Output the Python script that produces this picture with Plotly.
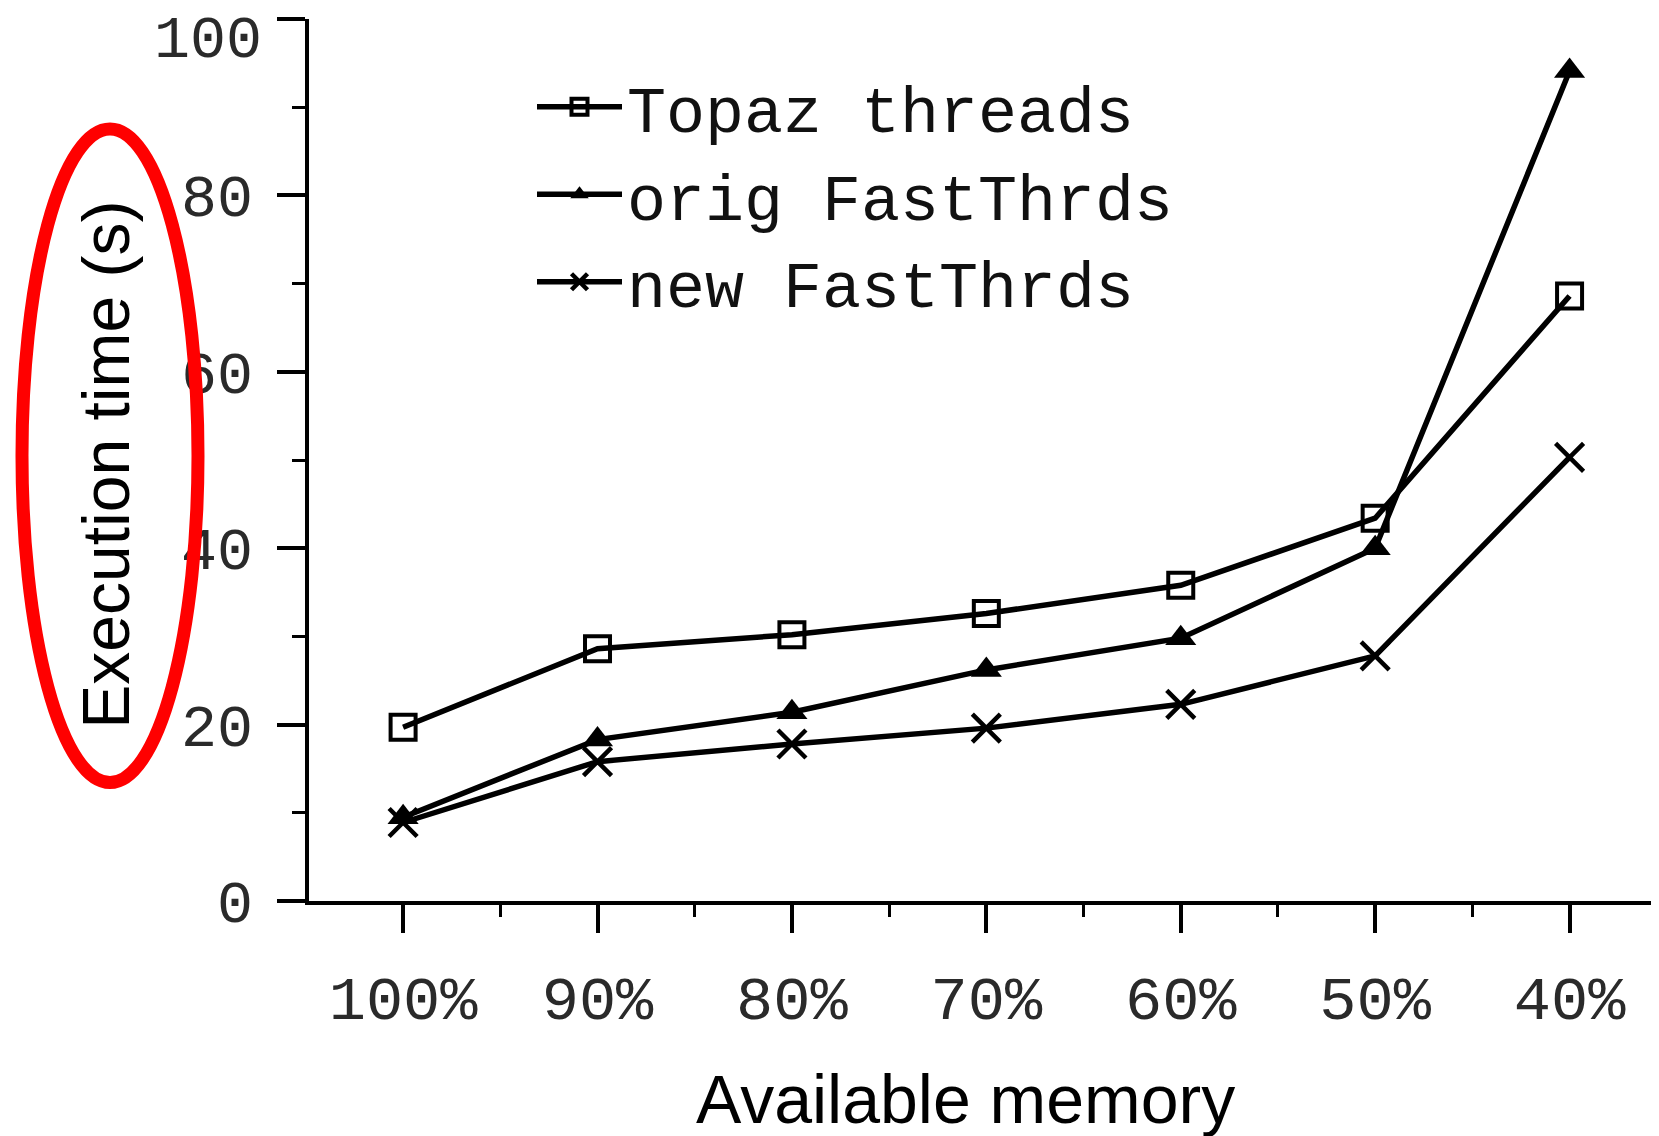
import plotly.graph_objects as go

categories = ["100%", "90%", "80%", "70%", "60%", "50%", "40%"]
topaz_threads = [19.7, 28.6, 30.2, 32.6, 35.8, 43.4, 68.6]
orig_fastthrds = [9.5, 18.3, 21.4, 26.2, 29.8, 40.0, 94.1]
new_fastthrds = [8.9, 15.8, 17.8, 19.6, 22.3, 27.8, 50.3]
y_ticks = [0, 20, 40, 60, 80, 100]
y_tick_labels = ["0", "20", "40", "60", "80", "100"]

xs = list(range(len(categories)))
mono = "Liberation Mono, Courier New, monospace"
sans = "Liberation Sans, Arial, sans-serif"

fig = go.Figure()
fig.add_trace(go.Scatter(
    x=xs, y=topaz_threads, name="Topaz threads", mode="lines+markers",
    line=dict(color="black", width=5.5),
    marker=dict(symbol="square-open", size=25, color="black", line=dict(width=4, color="black")),
))
fig.add_trace(go.Scatter(
    x=xs, y=orig_fastthrds, name="orig FastThrds", mode="lines+markers",
    line=dict(color="black", width=5.5),
    marker=dict(symbol="triangle-up", size=27, color="black"),
))
fig.add_trace(go.Scatter(
    x=xs, y=new_fastthrds, name="new FastThrds", mode="lines+markers",
    line=dict(color="black", width=5.5),
    marker=dict(symbol="x-thin-open", size=28, color="black", line=dict(width=4.5, color="black")),
))

OFF = 8  # browser default body margin
W, H = 1659 - OFF, 1136 - OFF
L, R, T, B = 309 - OFF, 0, 19 - OFF, 1136 - 901.5
pw, ph = W - L - R, H - T - B

def px(x):
    return (x - OFF - L) / pw

def py(y):
    return 1 - (y - OFF - T) / ph

# the top label sits just below its tick in the original, so it is placed as text
top_label = y_tick_labels[-1]
axis_labels = y_tick_labels[:-1] + [""]

fig.update_layout(
    width=W, height=H,
    margin=dict(l=L, r=R, t=T, b=B, autoexpand=False),
    paper_bgcolor="white", plot_bgcolor="white",
    showlegend=True,
    legend=dict(
        x=px(532), y=py(58), xanchor="left", yanchor="top",
        font=dict(family=mono, size=65, color="#111"),
        bgcolor="rgba(0,0,0,0)", itemwidth=85,
    ),
    xaxis=dict(
        range=[-0.484, 6.46], tickmode="array", tickvals=xs, ticktext=categories,
        showgrid=False, zeroline=False, showline=True, linecolor="black", linewidth=4,
        ticks="outside", ticklen=28, tickwidth=4, tickcolor="black",
        ticklabelstandoff=12,
        tickfont=dict(family=mono, size=62, color="#2a2a2a"),
        minor=dict(tickmode="array", tickvals=[i - 0.5 for i in range(len(categories) + 1)],
                   ticks="outside", ticklen=12, tickwidth=3, tickcolor="black"),
    ),
    yaxis=dict(
        range=[0, 100], tickmode="array", tickvals=y_ticks, ticktext=axis_labels,
        showgrid=False, zeroline=False, showline=True, linecolor="black", linewidth=4,
        ticks="outside", ticklen=28, tickwidth=4, tickcolor="black",
        ticklabelstandoff=12,
        tickfont=dict(family=mono, size=60, color="#2a2a2a"),
        minor=dict(tickmode="array", tickvals=[10, 30, 50, 70, 90],
                   ticks="outside", ticklen=13, tickwidth=3, tickcolor="black"),
    ),
    annotations=[
        dict(text=top_label, x=px(264), y=py(41), xref="paper", yref="paper",
             showarrow=False, xanchor="right", yanchor="middle",
             font=dict(family=mono, size=60, color="#2a2a2a")),
        dict(text="Execution time (s)", x=px(106), y=py(465), xref="paper", yref="paper",
             textangle=-90, showarrow=False, xanchor="center", yanchor="middle",
             font=dict(family=sans, size=66, color="black")),
        dict(text="Available memory", x=px(965), y=py(1100), xref="paper", yref="paper",
             showarrow=False, xanchor="center", yanchor="middle",
             font=dict(family=sans, size=68, color="black")),
    ],
    shapes=[
        dict(type="circle", xref="paper", yref="paper",
             x0=px(22), x1=px(198), y0=py(783), y1=py(129),
             line=dict(color="#ff0000", width=13)),
    ],
)

fig.write_html("out.html")
